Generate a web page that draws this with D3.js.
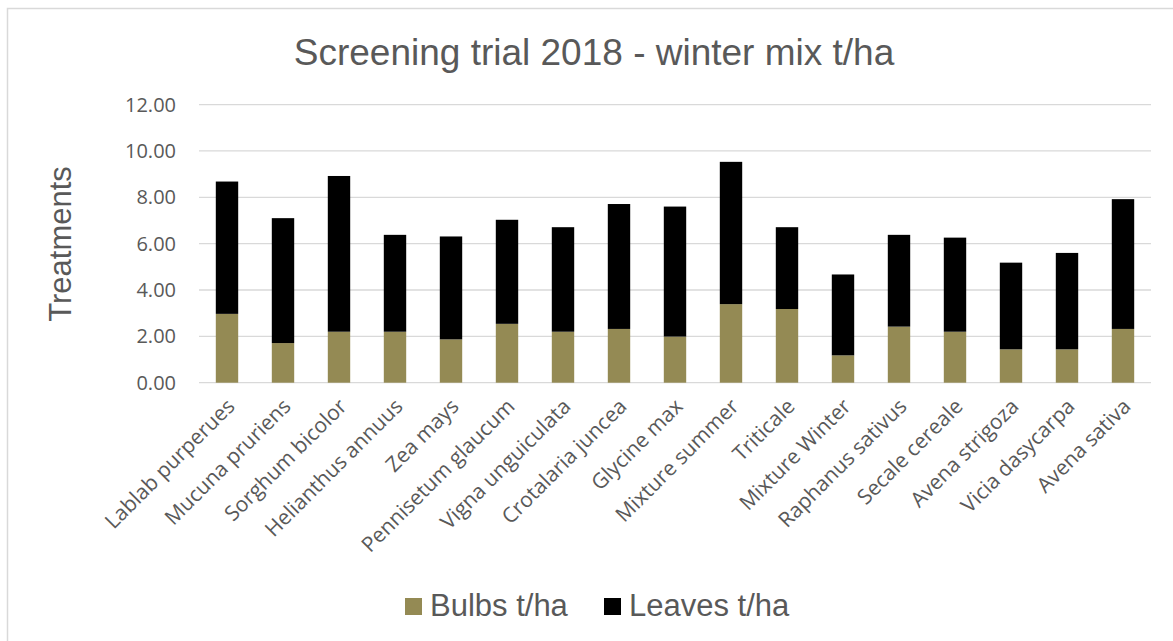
<!DOCTYPE html>
<html>
<head>
<meta charset="utf-8">
<script src="https://cdn.jsdelivr.net/npm/d3@7"></script>
<style>
  body { margin: 0; background: #fff; }
  svg { display: block; }
</style>
</head>
<body>
<svg id="chart" width="1173" height="641"></svg>
<script>
// treatments and t/ha values
var treatments = ["Lablab purperues", "Mucuna pruriens", "Sorghum bicolor", "Helianthus annuus",
  "Zea mays", "Pennisetum glaucum", "Vigna unguiculata", "Crotalaria juncea", "Glycine max",
  "Mixture summer", "Triticale", "Mixture Winter", "Raphanus sativus", "Secale cereale",
  "Avena strigoza", "Vicia dasycarpa", "Avena sativa"];
var bulbs  = [2.97, 1.71, 2.20, 2.20, 1.87, 2.54, 2.20, 2.32, 1.99, 3.39, 3.18, 1.18, 2.42, 2.20, 1.44, 1.44, 2.32];
var leaves = [5.71, 5.39, 6.72, 4.18, 4.44, 4.49, 4.51, 5.39, 5.61, 6.14, 3.53, 3.49, 3.96, 4.06, 3.74, 4.16, 5.60];
var yTicks = [0, 2, 4, 6, 8, 10, 12];
var seriesNames = ["Bulbs t/ha", "Leaves t/ha"];
var seriesColors = ["#948a54", "#000000"];

var svg = d3.select("#chart");
var textColor = "#595959";
var axisFont = "'Open Sans', sans-serif";
var bigFont = "'Liberation Sans', Arial, sans-serif";

// chart frame (right/bottom edges fall outside the crop)
svg.append("rect")
  .attr("x", 7.5).attr("y", 8.5)
  .attr("width", 1200).attr("height", 700)
  .attr("fill", "#fff")
  .attr("stroke", "#d9d9d9")
  .attr("stroke-width", 1.5);

var x = d3.scaleBand()
  .domain(treatments)
  .range([199, 1151])
  .paddingInner(0.6)
  .paddingOuter(0.3);

var y = d3.scaleLinear()
  .domain([0, 12])
  .range([382.7, 104.6]);

// gridlines
svg.append("g")
  .selectAll("line")
  .data(yTicks)
  .enter().append("line")
    .attr("x1", 199).attr("x2", 1151)
    .attr("y1", function(d) { return y(d); })
    .attr("y2", function(d) { return y(d); })
    .attr("stroke", "#d9d9d9")
    .attr("stroke-width", 1.3);

// y axis labels
var yAxis = d3.axisLeft(y).tickValues(yTicks).tickSize(0).tickPadding(0)
  .tickFormat(d3.format(".2f"));
var gy = svg.append("g").attr("transform", "translate(176,0)").call(yAxis);
gy.select(".domain").remove();
gy.selectAll("text")
  .attr("fill", textColor)
  .attr("font-family", axisFont)
  .attr("font-size", "20px");

// stacked bars
var rows = treatments.map(function(t, i) { return { name: t, bulbs: bulbs[i], leaves: leaves[i] }; });
var stack = d3.stack().keys(["bulbs", "leaves"]);
var layers = stack(rows);

svg.append("g")
  .selectAll("g")
  .data(layers)
  .enter().append("g")
    .attr("fill", function(d, i) { return seriesColors[i]; })
  .selectAll("rect")
  .data(function(d) { return d; })
  .enter().append("rect")
    .attr("x", function(d) { return x(d.data.name); })
    .attr("width", x.bandwidth())
    .attr("y", function(d) { return y(d[1]); })
    .attr("height", function(d) { return y(d[0]) - y(d[1]); });

// x axis labels, rotated
var gx = svg.append("g").attr("transform", "translate(0,382.7)")
  .call(d3.axisBottom(x).tickSize(0).tickPadding(0));
gx.select(".domain").remove();
gx.selectAll("text")
  .attr("fill", textColor)
  .attr("font-family", axisFont)
  .attr("font-size", "21px")
  .attr("text-anchor", "end")
  .attr("dy", null)
  .attr("y", 0)
  .attr("transform", "translate(5,21) rotate(-45)")
  .attr("dominant-baseline", "middle");

// title
svg.append("text")
  .attr("x", 594).attr("y", 65)
  .attr("text-anchor", "middle")
  .attr("fill", textColor)
  .attr("font-family", bigFont)
  .attr("font-size", "37px")
  .text("Screening trial 2018 - winter mix t/ha");

// y axis title
svg.append("text")
  .attr("transform", "translate(71,244) rotate(-90)")
  .attr("text-anchor", "middle")
  .attr("fill", textColor)
  .attr("font-family", bigFont)
  .attr("font-size", "31px")
  .text("Treatments");

// legend
var legendX = [405, 604];
var legend = svg.append("g").selectAll("g")
  .data(seriesNames)
  .enter().append("g")
    .attr("transform", function(d, i) { return "translate(" + legendX[i] + ",598)"; });
legend.append("rect")
  .attr("width", 17).attr("height", 17)
  .attr("fill", function(d, i) { return seriesColors[i]; });
legend.append("text")
  .attr("x", 25).attr("y", 18)
  .attr("fill", textColor)
  .attr("font-family", bigFont)
  .attr("font-size", "31px")
  .text(function(d) { return d; });
</script>
</body>
</html>
